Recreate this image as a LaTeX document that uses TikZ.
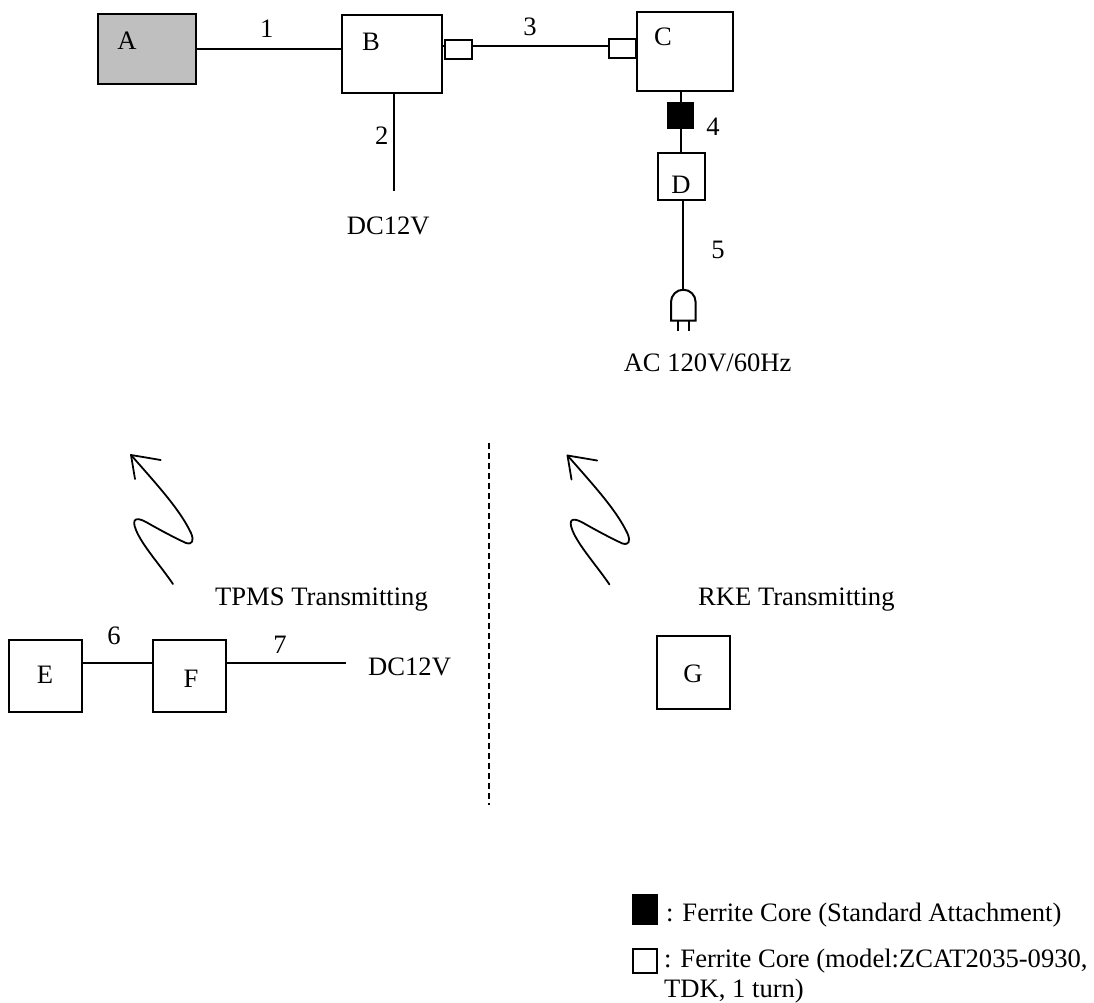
\documentclass[tikz,border=0pt]{standalone}
\usepackage{fontspec}
\setmainfont{Liberation Serif}
\begin{document}
\begin{tikzpicture}[x=1pt,y=-1pt,
  lw/.style={line width=2pt},
  box/.style={draw,lw,rectangle,inner sep=0pt,minimum width=#1},
  lab/.style={inner sep=0pt,font=\fontsize{26.6}{30}\selectfont},
  txt/.style={lab,anchor=base west},
  ferrite/.style={draw,lw,fill=white,inner sep=0pt},
  wave/.style={line width=1.8pt,line cap=round,line join=round}]
\useasboundingbox (0,0) rectangle (1094,1003);
% boxes
\node[box=98pt,minimum height=70pt,fill=black!25] (A) at (146.5,49) {};
\node[box=100pt,minimum height=78pt] (B) at (392.3,54) {};
\node[box=96pt,minimum height=79pt] (C) at (684.5,51.5) {};
\node[box=47pt,minimum height=47pt] (D) at (681,176.5) {};
\node[box=73pt,minimum height=72pt] (E) at (45.3,675.5) {};
\node[box=73pt,minimum height=72pt] (F) at (189.3,675.5) {};
\node[box=73pt,minimum height=73pt] (G) at (693.5,672.5) {};
% box letters
\node[lab] (la) at (127,41) {A};
\node[lab] (lb) at (371,41.7) {B};
\node[lab] (lc) at (663,37) {C};
\node[lab] (ld) at (681,185) {D};
\node[lab] (le) at (45,674.3) {E};
\node[lab] (lf) at (191,679) {F};
\node[lab] (lg) at (693,674) {G};
% ferrites
\node[ferrite,minimum width=27pt,minimum height=19pt] (f1) at (458.3,49.7) {};
\node[ferrite,minimum width=27pt,minimum height=19pt] (f2) at (622,49) {};
\node[draw,lw,fill=black,inner sep=0pt,minimum width=25pt,minimum height=25pt] (f3) at (680.5,115.5) {};
% connectors
\draw[lw] (A.east|-0,48.7) -- (B.west|-0,48.7);
\coordinate (dc2) at (393.7,191);
\draw[lw] (B.south-|dc2) -- (dc2);
\draw[lw] (B.east|-0,46) -- (f1.west|-0,46);
\draw[lw] (f1.east|-0,46) -- (f2.west|-0,46);
\draw[lw] (C.south-|f3) -- (f3.north);
\draw[lw] (f3.south) -- (D.north-|f3);
\coordinate (plugtop) at (682.7,290);
\draw[lw] (D.south-|plugtop) -- (plugtop);
\draw[lw] (E.east|-0,663.3) -- (F.west|-0,663.3);
\coordinate (dc7) at (346,663.3);
\draw[lw] (F.east|-dc7) -- (dc7);
% plug
\draw[lw] (671,320.7) -- (671,302) arc[start angle=180,end angle=360,radius=12.3] -- (695.6,320.7) -- cycle;
\draw[lw] (677.7,320.7) -- (677.7,331) (689.3,320.7) -- (689.3,331);
% divider
\coordinate (d1) at (489,443);
\coordinate (d2) at (489,805);
\draw[lw,dash pattern=on 6pt off 4pt] (d1) -- (d2);
% waves
\draw[wave] (173,584) .. controls (160,565) and (142,545) .. (136,530)
  .. controls (131,518) and (137,517) .. (146,522)
  .. controls (160,530) and (175,538) .. (186,543)
  .. controls (193,545) and (194,540) .. (191,533)
  .. controls (180,510) and (160,488) .. (131,455);
\draw[wave] (135,479) -- (131,455) -- (160.7,460);
\begin{scope}[shift={(436.5,0.5)}]
\draw[wave] (173,584) .. controls (160,565) and (142,545) .. (136,530)
  .. controls (131,518) and (137,517) .. (146,522)
  .. controls (160,530) and (175,538) .. (186,543)
  .. controls (193,545) and (194,540) .. (191,533)
  .. controls (180,510) and (160,488) .. (131,455);
\draw[wave] (135,479) -- (131,455) -- (160.7,460);
\end{scope}
% numbers
\node[lab] (n1) at (266.7,29) {1};
\node[lab] (n2) at (381.7,136) {2};
\node[lab] (n3) at (530,27) {3};
\node[lab] (n4) at (713,127) {4};
\node[lab] (n5) at (718,250) {5};
\node[lab] (n6) at (114,636) {6};
\node[lab] (n7) at (280,645) {7};
% texts
\node[txt] (t1) at (346.7,234) {DC12V};
\node[lab,anchor=base east] (t2) at (791.7,371.7) {AC 120V/60Hz};
\node[txt] (t3) at (215,605) {TPMS Transmitting};
\node[txt] (t4) at (698,605) {RKE Transmitting};
\node[txt] (t5) at (368,675.7) {DC12V};
% legend
\node[draw,lw,fill=black,inner sep=0pt,minimum width=24pt,minimum height=29pt] (k1) at (645,909) {};
\node[ferrite,minimum width=24pt,minimum height=24pt] (k2) at (645,960.5) {};
\node[txt] (k1t) at (666,921.7) {: Ferrite Core (Standard Attachment)};
\node[txt] (k2t) at (664,967) {: Ferrite Core (model:ZCAT2035-0930,};
\node[txt] (k3t) at (664,997) {TDK, 1 turn)};
\end{tikzpicture}
\end{document}
